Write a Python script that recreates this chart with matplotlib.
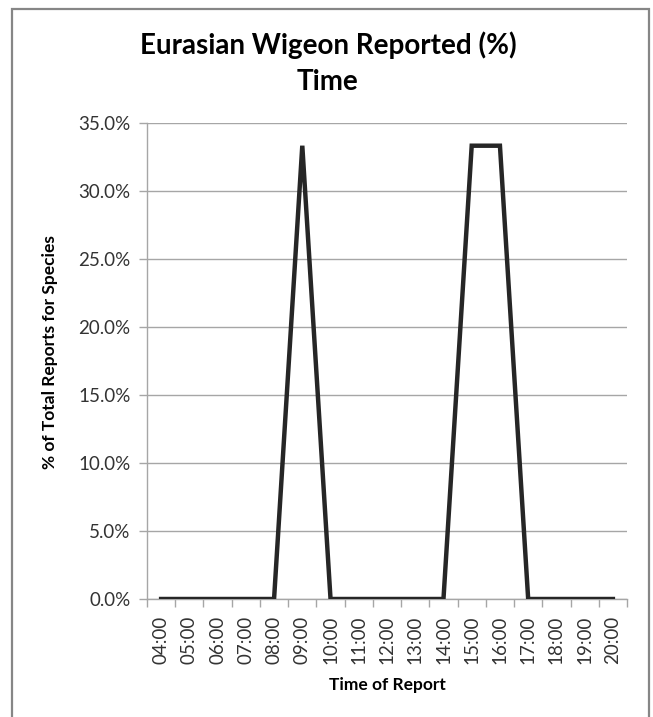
import matplotlib
matplotlib.use('Agg')
import matplotlib.pyplot as plt
import matplotlib.patches as patches
from matplotlib.ticker import FuncFormatter, FixedLocator
import numpy as np

hours = ['04:00', '05:00', '06:00', '07:00', '08:00', '09:00', '10:00', '11:00', '12:00',
         '13:00', '14:00', '15:00', '16:00', '17:00', '18:00', '19:00', '20:00']
pct_reported = [0.0, 0.0, 0.0, 0.0, 0.0, 33.33, 0.0, 0.0, 0.0,
                0.0, 0.0, 33.33, 33.33, 0.0, 0.0, 0.0, 0.0]

plt.rcParams['font.family'] = ['Lato', 'DejaVu Sans']

fig = plt.figure(figsize=(6.53, 7.17), dpi=100)
ax = fig.add_axes([147 / 653, 1 - 599 / 717, 480 / 653, 476 / 717])

# outer chart border (bottom edge runs off the image)
fig.patches.append(patches.Rectangle((12 / 653, -0.05), 637 / 653, 1.05 - 9 / 717,
                                     transform=fig.transFigure, fill=False,
                                     edgecolor='#868686', linewidth=1.6))

x = np.arange(len(hours))
ax.plot(x, pct_reported, color='#262626', linewidth=3.2, solid_joinstyle='miter', zorder=5)

ax.set_xlim(-0.5, len(hours) - 0.5)
ax.set_ylim(0, 35)
ax.set_yticks(np.arange(0, 35.1, 5))
ax.yaxis.set_major_formatter(FuncFormatter(lambda v, p: '%.1f%%' % v))
ax.grid(axis='y', color='#a6a6a6', linewidth=1)
ax.set_axisbelow(True)

ax.set_xticks(x)
ax.set_xticklabels(hours, rotation=90)
ax.xaxis.set_minor_locator(FixedLocator(np.arange(-0.5, len(hours), 1)))
ax.tick_params(axis='x', which='major', length=0, pad=12, labelsize=13.5, labelcolor='#333333')
ax.tick_params(axis='x', which='minor', length=6, color='#a6a6a6', width=1)
ax.tick_params(axis='y', length=6, color='#a6a6a6', width=1, labelsize=13.5, labelcolor='#333333', pad=6)

for side in ['top', 'right']:
    ax.spines[side].set_visible(False)
for side in ['left', 'bottom']:
    ax.spines[side].set_color('#a6a6a6')
    ax.spines[side].set_linewidth(1)

ax.set_xlabel('Time of Report', fontsize=12.5, fontweight='bold', labelpad=9)
ax.set_ylabel('% of Total Reports for Species', fontsize=12.5, fontweight='bold', va='center')
ax.yaxis.set_label_coords(-0.202, 0.519)

fig.text(328 / 653, 1 - 45 / 717, 'Eurasian Wigeon Reported (%)', ha='center', va='center',
         fontsize=20, fontweight='bold')
fig.text(328 / 653, 1 - 82 / 717, 'Time', ha='center', va='center',
         fontsize=20, fontweight='bold')

fig.savefig('out.png', dpi=100)
